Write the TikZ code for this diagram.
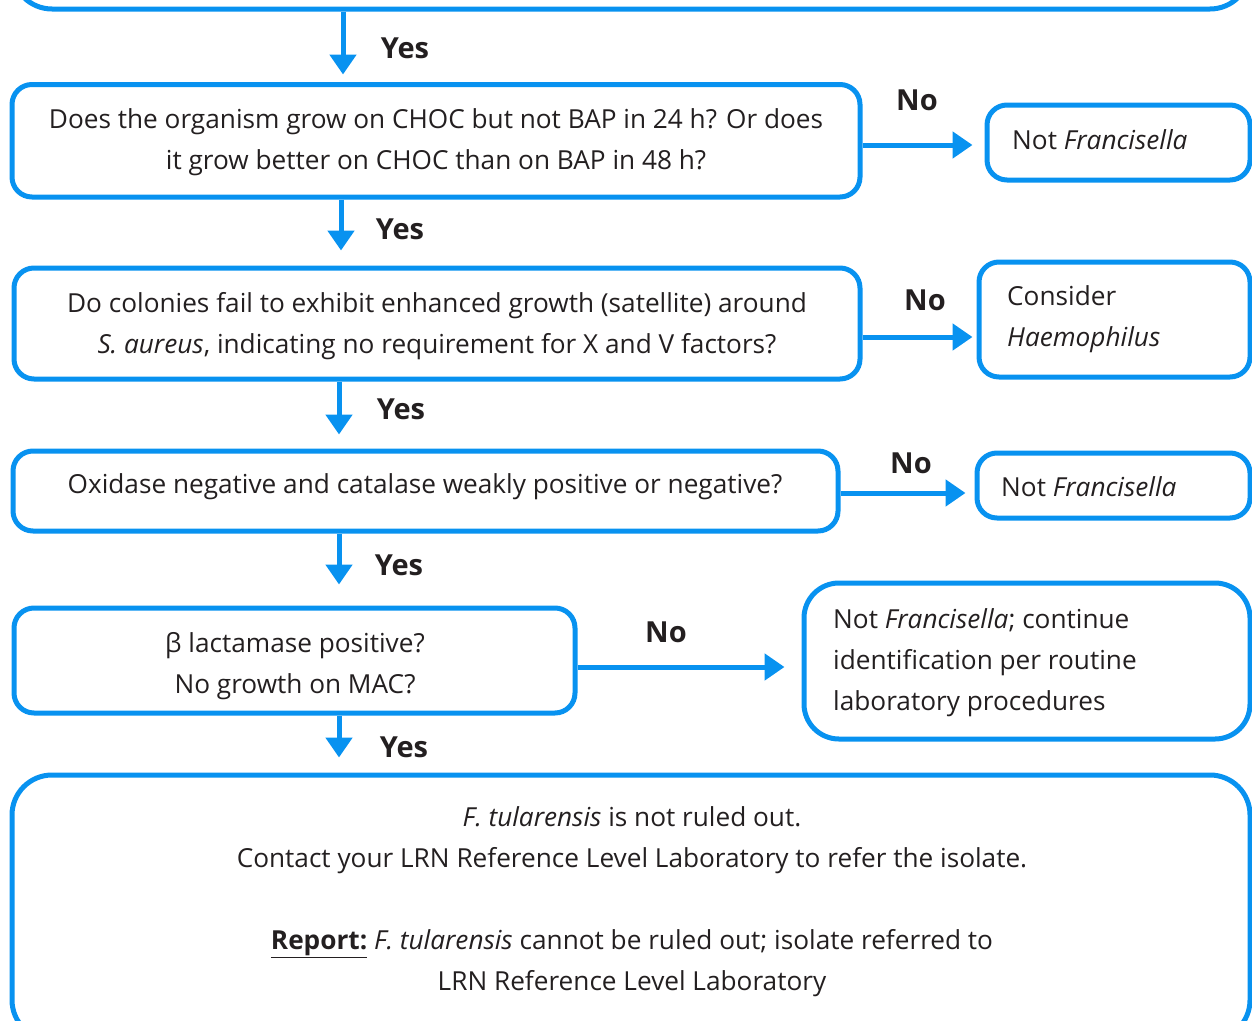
\documentclass[tikz,border=0pt]{standalone}
\usepackage{fontspec}
\setmainfont{Open Sans}
\usetikzlibrary{arrows.meta}
\definecolor{fb}{RGB}{8,146,240}
\definecolor{tx}{RGB}{35,31,32}
\begin{document}
\begin{tikzpicture}[x=1pt,y=-1pt,
 box/.style={draw=fb, line width=5pt, rounded corners=20pt, inner sep=0pt, anchor=center},
 arr/.style={draw=fb, line width=5pt, -{Triangle[length=20pt,width=26pt]}},
 lbl/.style={font=\fontsize{29}{34}\selectfont\bfseries, text=tx, inner sep=0pt},
 txt/.style={font=\fontsize{26.2}{41}\selectfont, text=tx, align=center, inner sep=0pt},
 ltxt/.style={font=\fontsize{26.2}{41}\selectfont, text=tx, align=left, inner sep=0pt, anchor=west}]
\useasboundingbox (0,0) rectangle (1252,1020);
\clip (0,0) rectangle (1252,1020);
% boxes
\node[box, rounded corners=40pt, minimum width=1238pt, minimum height=100pt] (prev) at (631,-41) {};
\node[box, minimum width=848pt, minimum height=112.5pt] (q1) at (436,140.75) {};
\node[box, minimum width=263pt, minimum height=75pt] (n1) at (1118.5,142.5) {};
\node[box, minimum width=846pt, minimum height=111pt] (q2) at (437,323.5) {};
\node[box, minimum width=271pt, minimum height=115pt] (n2) at (1114.5,319.5) {};
\node[box, minimum width=825pt, minimum height=80pt] (q3) at (425.5,491) {};
\node[box, minimum width=273pt, minimum height=65pt] (n3) at (1113.5,485.5) {};
\node[box, minimum width=561pt, minimum height=105pt] (q4) at (294.5,660.5) {};
\node[box, rounded corners=35pt, minimum width=446pt, minimum height=156pt] (n4) at (1027,661) {};
\node[box, rounded corners=40pt, minimum width=1238pt, minimum height=265pt] (fin) at (631,907.5) {};
% texts
\node[txt] (t1) at (436,142.5) {Does the organism grow on CHOC but not BAP in 24 h? Or does\\ it grow better on CHOC than on BAP in 48 h?};
\node[ltxt] (tn1) at (1012,140) {Not \textit{Francisella}};
\node[txt] (t2) at (437,326.5) {Do colonies fail to exhibit enhanced growth (satellite) around\\ \textit{S. aureus}, indicating no requirement for X and V factors?};
\node[ltxt] (tn2) at (1007,319.5) {Consider\\ \textit{Haemophilus}};
\node[txt] (t3) at (425,487) {Oxidase negative and catalase weakly positive or negative?};
\node[ltxt] (tn3) at (1001,487) {Not \textit{Francisella}};
\node[txt] (t4) at (295,666) {β lactamase positive?\\ No growth on MAC?};
\node[ltxt] (tn4) at (833,663) {Not \textit{Francisella}; continue\\ identification per routine\\ laboratory procedures};
\node[txt] (tf) at (632,901.5) {\textit{F. tularensis} is not ruled out.\\ Contact your LRN Reference Level Laboratory to refer the isolate.\\[41pt] \underline{\textbf{Report:}} \textit{F. tularensis} cannot be ruled out; isolate referred to\\ LRN Reference Level Laboratory};
% labels
\node[lbl] (y1) at (405,48) {Yes};
\node[lbl] (y2) at (400,229) {Yes};
\node[lbl] (y3) at (401,409) {Yes};
\node[lbl] (y4) at (399,565) {Yes};
\node[lbl] (y5) at (404,747) {Yes};
\node[lbl] (no1) at (917,100) {No};
\node[lbl] (no2) at (925,300) {No};
\node[lbl] (no3) at (911,463) {No};
\node[lbl] (no4) at (666,632) {No};
% connector columns/rows
\coordinate (ax1) at (343,0);
\coordinate (ax2) at (341,0);
\coordinate (ax3) at (339,0);
\coordinate (ay1) at (0,145);
\coordinate (ay2) at (0,337);
\coordinate (ay3) at (0,493);
\coordinate (ay4) at (0,667);
\draw[arr, shorten >=7.5pt] (prev.south -| ax1) -- (q1.north -| ax1);
\draw[arr, shorten >=15pt] (q1.south -| ax2) -- (q2.north -| ax2);
\draw[arr, shorten >=14pt] (q2.south -| ax3) -- (q3.north -| ax3);
\draw[arr, shorten >=21pt] (q3.south -| ax3) -- (q4.north -| ax3);
\draw[arr, shorten >=15pt] (q4.south -| ax3) -- (fin.north -| ax3);
\draw[arr, shorten >=12pt] (q1.east |- ay1) -- (n1.west |- ay1);
\draw[arr, shorten >=4pt] (q2.east |- ay2) -- (n2.west |- ay2);
\draw[arr, shorten >=9pt] (q3.east |- ay3) -- (n3.west |- ay3);
\draw[arr, shorten >=17pt] (q4.east |- ay4) -- (n4.west |- ay4);
\end{tikzpicture}
\end{document}
